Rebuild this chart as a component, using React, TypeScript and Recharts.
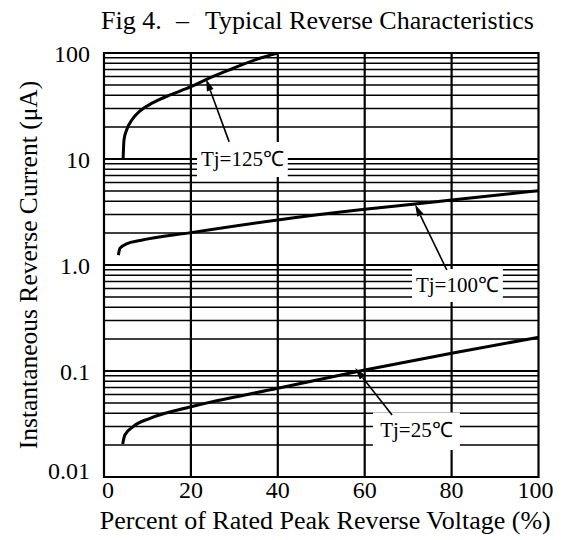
import React from 'react';
import { LineChart, Line, XAxis, YAxis, ReferenceLine, ReferenceArea, Label } from 'recharts';

const FONT = "'Liberation Serif', 'Times New Roman', serif";

const titleParts = ['Fig 4.', '\u2013', 'Typical Reverse Characteristics'];
const xAxisTitle = 'Percent of Rated Peak Reverse Voltage (%)';
const yAxisTitle = 'Instantaneous Reverse Current (\u03bcA)';

const xTicks = [0, 20, 40, 60, 80, 100];
const yTicks = [0.01, 0.1, 1, 10, 100];
const yTickLabels = ['0.01', '0.1', '1.0', '10', '100'];
const xGrid = [20, 40, 60, 80];
const yMajorGrid = [0.1, 1, 10];
const yMinorGrid = [
  0.02, 0.03, 0.04, 0.05, 0.06, 0.07, 0.08, 0.09,
  0.2, 0.3, 0.4, 0.5, 0.6, 0.7, 0.8, 0.9,
  2, 3, 4, 5, 6, 7, 8, 9,
  20, 30, 40, 50, 60, 70, 80, 90,
];

const tj125 = [
  { x: 4.4, y: 10.0 }, { x: 4.6, y: 15.1 }, { x: 5.2, y: 18.8 }, { x: 6.4, y: 23.3 },
  { x: 8.3, y: 28.4 }, { x: 11.3, y: 34 }, { x: 15.2, y: 40.2 }, { x: 20, y: 48.1 },
  { x: 23.6, y: 56.5 }, { x: 29.8, y: 71.8 }, { x: 35.1, y: 87.2 }, { x: 40, y: 100 },
];
const tj100 = [
  { x: 3.3, y: 1.24 }, { x: 3.7, y: 1.44 }, { x: 5.2, y: 1.58 }, { x: 8.3, y: 1.7 },
  { x: 20, y: 2.02 }, { x: 40, y: 2.66 }, { x: 60, y: 3.35 }, { x: 71.6, y: 3.76 },
  { x: 80, y: 4.1 }, { x: 100, y: 5.02 },
];
const tj25 = [
  { x: 4.3, y: 0.0205 }, { x: 4.8, y: 0.0249 }, { x: 6.7, y: 0.0299 }, { x: 10.6, y: 0.0358 },
  { x: 20, y: 0.046 }, { x: 40, y: 0.0687 }, { x: 60, y: 0.102 }, { x: 80, y: 0.147 },
  { x: 100, y: 0.208 },
];

const annLabels = ['Tj=125\u2103', 'Tj=100\u2103', 'Tj=25\u2103'];
// label boxes: [x1, x2, y1, y2] in data units
const annBoxes = [
  [21.4, 42.3, 6.76, 14.45],
  [70.9, 91.8, 0.448, 0.916],
  [61.9, 81.9, 0.018, 0.0405],
];
// arrows: tail -> tip in data units
const annArrows = [
  [{ x: 28.8, y: 14.5 }, { x: 23.5, y: 56.9 }],
  [{ x: 78.9, y: 0.897 }, { x: 71.6, y: 3.72 }],
  [{ x: 66.3, y: 0.0385 }, { x: 57.8, y: 0.1067 }],
];

const ArrowShape = (props: any) => {
  const { x1, y1, x2, y2 } = props;
  const dx = x2 - x1;
  const dy = y2 - y1;
  const len = Math.sqrt(dx * dx + dy * dy) || 1;
  const ux = dx / len;
  const uy = dy / len;
  const hl = 12;
  const hw = 3.5;
  const bx = x2 - ux * hl;
  const by = y2 - uy * hl;
  const pts = `${x2},${y2} ${bx - uy * hw},${by + ux * hw} ${bx + uy * hw},${by - ux * hw}`;
  return (
    <g>
      <line x1={x1} y1={y1} x2={bx} y2={by} stroke="#000" strokeWidth={1.6} />
      <polygon points={pts} fill="#000" />
    </g>
  );
};

const XTick = (props: any) => {
  const { x, y, payload } = props;
  const shift = payload.value === 0 ? 4 : payload.value === 100 ? -3 : 0;
  return (
    <text x={x + shift} y={y + 21} textAnchor="middle" fontFamily={FONT} fontSize={24} fill="#000">
      {String(payload.value)}
    </text>
  );
};

const YTick = (props: any) => {
  const { x, y, payload } = props;
  const i = yTicks.indexOf(payload.value);
  const extra = payload.value === 0.01 ? -7 : 0;
  return (
    <text x={x} y={y + 9 + extra} textAnchor="end" fontFamily={FONT} fontSize={24} fill="#000">
      {i >= 0 ? yTickLabels[i] : String(payload.value)}
    </text>
  );
};

const BoxLabel = (text: string) => (props: any) => {
  const vb = props.viewBox || {};
  const cx = vb.x + vb.width / 2;
  const cy = vb.y + vb.height / 2;
  return (
    <text x={cx} y={cy + 6} textAnchor="middle" fontFamily={FONT} fontSize={21} fill="#000">
      {text}
    </text>
  );
};

export default function App() {
  return (
    <div style={{ position: 'absolute', left: 0, top: 0, width: 563, height: 540, background: '#fff' }}>
      <svg width={563} height={40} style={{ position: 'absolute', left: 0, top: 0 }}>
        <text y={29} fontFamily={FONT} fontSize={26} fill="#000">
          <tspan x={101}>{titleParts[0]}</tspan>
          <tspan x={176}>{titleParts[1]}</tspan>
          <tspan x={205}>{titleParts[2]}</tspan>
        </text>
      </svg>
      <div style={{ position: 'absolute', left: 0, top: 0 }}>
        <LineChart width={563} height={540} margin={{ top: 53, right: 24.5, bottom: 0, left: 4 }}>
          <XAxis
            type="number"
            dataKey="x"
            domain={[0, 100]}
            ticks={xTicks}
            interval={0}
            axisLine={false}
            tickLine={false}
            tickSize={0}
            tickMargin={0}
            height={63}
            tick={<XTick />}
            allowDataOverflow
          >
            <Label
              content={(p: any) => {
                const vb = p.viewBox || {};
                return (
                  <text x={vb.x + vb.width / 2 + 4} y={529} textAnchor="middle" fontFamily={FONT} fontSize={26} fill="#000">
                    {xAxisTitle}
                  </text>
                );
              }}
            />
          </XAxis>
          <YAxis
            type="number"
            scale="log"
            domain={[0.01, 100]}
            ticks={yTicks}
            interval={0}
            axisLine={false}
            tickLine={false}
            tickSize={0}
            tickMargin={14}
            width={100}
            tick={<YTick />}
            allowDataOverflow
          >
            <Label
              content={(p: any) => {
                const vb = p.viewBox || {};
                const cx = 37;
                const cy = vb.y + vb.height / 2;
                return (
                  <text
                    x={cx}
                    y={cy}
                    transform={`rotate(-90, ${cx}, ${cy})`}
                    textAnchor="middle"
                    fontFamily={FONT}
                    fontSize={25.5}
                    fill="#000"
                  >
                    {yAxisTitle}
                  </text>
                );
              }}
            />
          </YAxis>

          {yMinorGrid.map((v) => (
            <ReferenceLine key={'mn' + v} y={v} stroke="#000" strokeWidth={1.5} zIndex={-60} />
          ))}
          {yMajorGrid.map((v) => (
            <ReferenceLine key={'mj' + v} y={v} stroke="#000" strokeWidth={2.2} zIndex={-55} />
          ))}
          {xGrid.map((v) => (
            <ReferenceLine key={'vx' + v} x={v} stroke="#000" strokeWidth={2.2} zIndex={-55} />
          ))}
          <ReferenceArea x1={0} x2={100} y1={0.01} y2={100} fill="none" stroke="#000" strokeWidth={2.2} zIndex={-50} />

          <Line data={tj125} dataKey="y" type="monotone" stroke="#000" strokeWidth={3} dot={false} isAnimationActive={false} />
          <Line data={tj100} dataKey="y" type="monotone" stroke="#000" strokeWidth={3} dot={false} isAnimationActive={false} />
          <Line data={tj25} dataKey="y" type="monotone" stroke="#000" strokeWidth={3} dot={false} isAnimationActive={false} />

          {annBoxes.map((b, i) => (
            <ReferenceArea
              key={'box' + i}
              x1={b[0]}
              x2={b[1]}
              y1={b[2]}
              y2={b[3]}
              fill="#fff"
              fillOpacity={1}
              stroke="none"
              zIndex={450}
              label={BoxLabel(annLabels[i])}
            />
          ))}
          {annArrows.map((a, i) => (
            <ReferenceLine key={'arr' + i} segment={a} shape={ArrowShape} stroke="#000" zIndex={500} />
          ))}
        </LineChart>
      </div>
    </div>
  );
}
